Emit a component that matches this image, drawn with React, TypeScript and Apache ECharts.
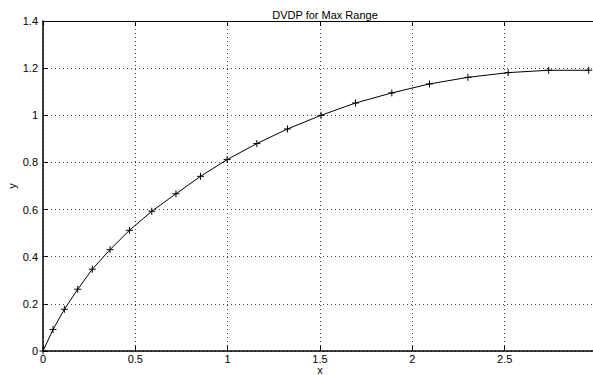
import React, { useEffect, useRef } from "react";
import * as echarts from "echarts";

const xValues = [0, 0.054, 0.116, 0.188, 0.267, 0.363, 0.468, 0.589, 0.72, 0.853, 0.997, 1.158, 1.324, 1.506, 1.692, 1.889, 2.093, 2.301, 2.519, 2.738, 2.955];
const yValues = [0, 0.091, 0.177, 0.262, 0.347, 0.43, 0.512, 0.593, 0.667, 0.741, 0.812, 0.88, 0.942, 1.0, 1.052, 1.095, 1.133, 1.161, 1.181, 1.191, 1.191];
const titleText = "DVDP for Max Range";
const xName = "x";
const yName = "y";

const FONT = "'Liberation Sans', Arial, Helvetica, sans-serif";

export default function App() {
  const ref = useRef<HTMLDivElement>(null);
  useEffect(() => {
    if (!ref.current) return;
    const chart = echarts.init(ref.current, undefined, { renderer: "svg" });
    const data = xValues.map((x, i) => [x, yValues[i]]);
    const gridLine = { show: true, lineStyle: { color: "#444", type: [1, 3] as any, width: 1 } };
    chart.setOption({
      animation: false,
      backgroundColor: "#fff",
      textStyle: { fontFamily: FONT },
      title: {
        text: titleText,
        left: 320,
        top: 4,
        textAlign: "center",
        textStyle: { fontSize: 11, fontWeight: "normal", color: "#000", fontFamily: FONT },
      },
      grid: { left: 43, top: 21, right: -4, bottom: 24, containLabel: false, outerBoundsMode: "none" },
      xAxis: [
        {
          type: "value",
          min: 0,
          max: 3,
          interval: 0.5,
          position: "bottom",
          name: xName,
          nameLocation: "middle",
          nameGap: 14,
          nameMoveOverlap: false,
          nameTextStyle: { fontSize: 11, color: "#000", fontFamily: FONT, lineHeight: 10 },
          axisLine: { show: true, onZero: false, lineStyle: { color: "#000", width: 1.5 } },
          axisTick: { show: true, inside: true, length: 5, lineStyle: { color: "#000" } },
          axisLabel: { fontSize: 11, color: "#000", margin: 3, lineHeight: 10, showMaxLabel: false, fontFamily: FONT },
          splitLine: gridLine,
        },
        {
          type: "value",
          min: 0,
          max: 3,
          interval: 0.5,
          position: "top",
          axisLine: { show: true, onZero: false, lineStyle: { color: "#000", width: 1 } },
          axisTick: { show: true, inside: true, length: 5, lineStyle: { color: "#000" } },
          axisLabel: { show: false },
          splitLine: { show: false },
        },
      ],
      yAxis: {
        type: "value",
        min: 0,
        max: 1.4,
        interval: 0.2,
        name: yName,
        nameLocation: "middle",
        nameGap: 26,
        nameMoveOverlap: false,
        nameTextStyle: { fontSize: 11, color: "#000", fontFamily: FONT },
        axisLine: { show: true, onZero: false, lineStyle: { color: "#000", width: 1.5 } },
        axisTick: { show: true, inside: true, length: 5, lineStyle: { color: "#000" } },
        axisLabel: { fontSize: 11, color: "#000", margin: 5, fontFamily: FONT },
        splitLine: gridLine,
      },
      series: [
        {
          type: "line",
          data,
          xAxisIndex: 0,
          showAllSymbol: true,
          symbol: "path://M5,0V10M0,5H10",
          symbolSize: 7,
          lineStyle: { color: "#000", width: 1 },
          itemStyle: { color: "none", borderColor: "#000", borderWidth: 1 },
          clip: false,
        },
      ],
    });
    return () => chart.dispose();
  }, []);
  return <div ref={ref} style={{ position: "fixed", left: 0, top: 0, width: 593, height: 375 }} />;
}
